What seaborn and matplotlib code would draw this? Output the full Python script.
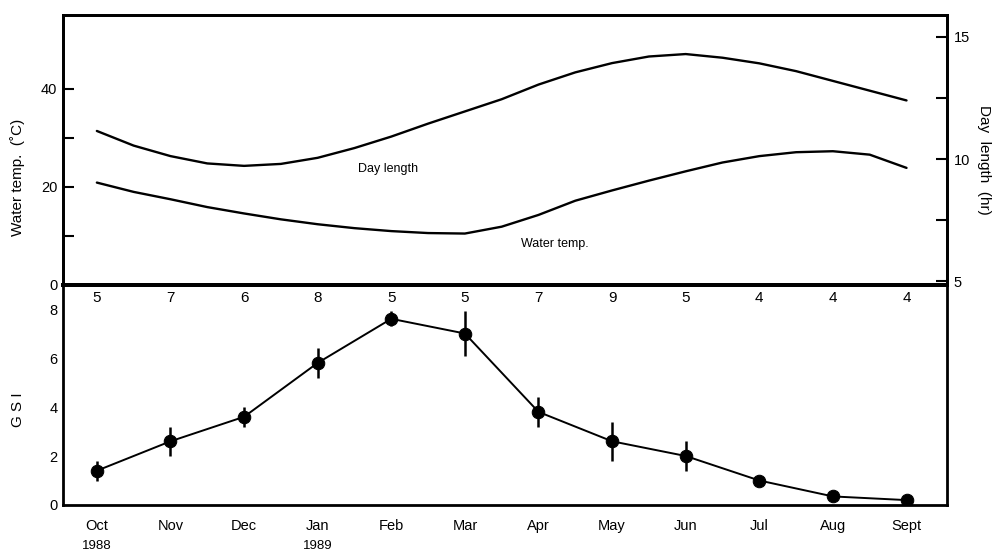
import numpy as np
import pandas as pd
import matplotlib
matplotlib.use("Agg")
import matplotlib.pyplot as plt
import seaborn as sns
from matplotlib.transforms import blended_transform_factory

# ---------------- data ----------------
months = ["Oct", "Nov", "Dec", "Jan", "Feb", "Mar", "Apr", "May", "Jun", "Jul", "Aug", "Sept"]
year_marks = ["1988", "", "", "1989", "", "", "", "", "", "", "", ""]
sample_n = [5, 7, 6, 8, 5, 5, 7, 9, 5, 4, 4, 4]
gsi_mean = [1.4, 2.6, 3.6, 5.8, 7.6, 7.0, 3.8, 2.6, 2.0, 1.0, 0.35, 0.2]
gsi_err = [0.4, 0.6, 0.4, 0.6, 0.3, 0.9, 0.6, 0.8, 0.6, 0.15, 0.05, 0.0]

# time in months since Oct 1988 (half-month readings of the smooth curves)
curve_time = [0, 0.5, 1, 1.5, 2, 2.5, 3, 3.5, 4, 4.5, 5, 5.5,
              6, 6.5, 7, 7.5, 8, 8.5, 9, 9.5, 10, 10.5, 11]
day_length = [11.15, 10.55, 10.12, 9.82, 9.72, 9.80, 10.05, 10.45, 10.92, 11.45, 11.95, 12.45,
              13.05, 13.55, 13.93, 14.20, 14.30, 14.15, 13.92, 13.60, 13.20, 12.80, 12.40]
water_temp = [20.9, 19.0, 17.5, 15.9, 14.6, 13.4, 12.4, 11.6, 11.0, 10.6, 10.5, 11.9,
              14.3, 17.2, 19.3, 21.3, 23.2, 25.0, 26.3, 27.1, 27.3, 26.6, 23.9]

month_idx = list(range(len(months)))
gsi_df = pd.DataFrame({"m": month_idx, "gsi": gsi_mean, "err": gsi_err, "n": sample_n})
curve_df = pd.DataFrame({"t": curve_time, "day": day_length, "temp": water_temp})

# ---------------- style ----------------
sns.set_theme(style="white")
plt.rcParams["font.family"] = ["Liberation Sans", "DejaVu Sans"]
plt.rcParams["axes.edgecolor"] = "black"
plt.rcParams["text.color"] = "black"
plt.rcParams["axes.labelcolor"] = "black"
plt.rcParams["xtick.color"] = "black"
plt.rcParams["ytick.color"] = "black"
plt.rcParams["lines.solid_capstyle"] = "round"
plt.rcParams["lines.solid_joinstyle"] = "round"

fig = plt.figure(figsize=(9.95, 5.53), dpi=100)
W, H = 995, 553
left, right = 63 / W, 947 / W
ax_top = fig.add_axes([left, 1 - 285 / H, right - left, 270 / H])
ax_bot = fig.add_axes([left, 1 - 505 / H, right - left, 220 / H])
ax_day = ax_top.twinx()

xlim = (-0.46, 11.55)
lw_spine = 2.0

# ---------------- top panel ----------------
sns.lineplot(data=curve_df, x="t", y="temp", ax=ax_top, color="black", lw=1.7, legend=False)
sns.lineplot(data=curve_df, x="t", y="day", ax=ax_day, color="black", lw=1.7, legend=False)

ax_top.set_xlim(*xlim)
ax_top.set_ylim(0, 55.1)
ax_day.set_ylim(4.84, 15.9)
ax_top.set_xticks([])
ax_top.set_xlabel("")
ax_top.set_ylabel("")
ax_day.set_ylabel("")
ax_top.set_yticks([0, 10, 20, 30, 40])
ax_top.set_yticklabels(["0", "", "20", "", "40"])
ax_day.set_yticks([5, 7.5, 10, 12.5, 15])
ax_day.set_yticklabels(["5", "", "10", "", "15"])
ax_top.tick_params(axis="y", direction="in", length=8, width=1.5, labelsize=10.5, pad=4)
ax_day.tick_params(axis="y", direction="in", length=8, width=1.5, labelsize=10.5, pad=5)

for a in (ax_top, ax_day):
    for s in a.spines.values():
        s.set_linewidth(lw_spine)
        s.set_color("black")
ax_top.spines["bottom"].set_linewidth(2.8)

ax_top.text(3.95, 23.7, "Day length", fontsize=9, ha="center", va="center")
ax_top.text(6.22, 8.4, "Water temp.", fontsize=9, ha="center", va="center")

# ---------------- bottom panel ----------------
ax_bot.vlines(gsi_df["m"], gsi_df["gsi"] - gsi_df["err"], gsi_df["gsi"] + gsi_df["err"],
              color="black", lw=1.8, zorder=3)
sns.lineplot(data=gsi_df, x="m", y="gsi", ax=ax_bot, color="black", lw=1.4,
             marker="o", markersize=9, markeredgecolor="black", markerfacecolor="black",
             legend=False, zorder=4)

ax_bot.set_xlim(*xlim)
ax_bot.set_ylim(0, 8.98)
ax_bot.set_xlabel("")
ax_bot.set_ylabel("")
ax_bot.set_yticks([0, 2, 4, 6, 8])
ax_bot.tick_params(axis="y", direction="in", length=8, width=1.5, labelsize=10.5, pad=4)

ax_bot.set_xticks(month_idx)
ax_bot.set_xticklabels(months, fontsize=10.5, va="top")
ax_bot.set_xticks([i + 0.5 for i in month_idx[:-1]], minor=True)
ax_bot.tick_params(axis="x", which="major", length=0, pad=10)
ax_bot.tick_params(axis="x", which="minor", direction="out", length=8, width=1.5)

trans_x = blended_transform_factory(ax_bot.transData, fig.transFigure)
for m, y in zip(month_idx, year_marks):
    if y:
        ax_bot.text(m, 1 - 546 / H, y, transform=trans_x, ha="center", va="center",
                    fontsize=9.5, clip_on=False)

for s in ax_bot.spines.values():
    s.set_linewidth(lw_spine)
    s.set_color("black")
ax_bot.spines["top"].set_linewidth(2.8)

trans = blended_transform_factory(ax_bot.transData, ax_bot.transAxes)
for m, n in zip(month_idx, sample_n):
    ax_bot.text(m, 0.94, str(n), transform=trans, ha="center", va="center", fontsize=11)

# ---------------- axis titles ----------------
fig.text(18 / W, 1 - 177 / H, "Water temp.  (˚C)", rotation=90, ha="center", va="center", fontsize=11)
fig.text(984 / W, 1 - 160 / H, "Day  length  (hr)", rotation=270, ha="center", va="center", fontsize=11)
fig.text(18 / W, 1 - 410 / H, "G S I", rotation=90, ha="center", va="center", fontsize=11)

fig.savefig("out.png", dpi=100, facecolor="white")
